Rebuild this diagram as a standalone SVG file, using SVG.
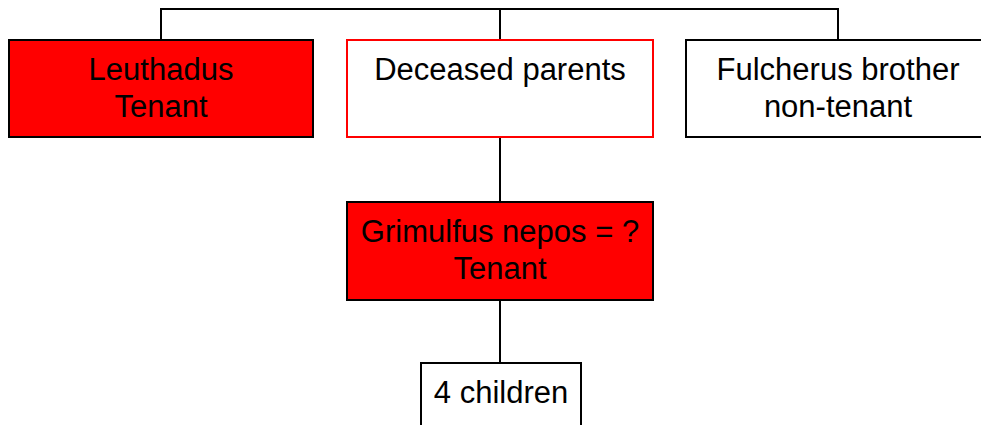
<svg xmlns="http://www.w3.org/2000/svg" width="981" height="425" viewBox="0 0 981 425">
<style>
.box{stroke:#000;stroke-width:2}
.red{fill:#ff0000}
.white{fill:#fff}
.rs{stroke:#ff0000}
text{font-family:"Liberation Sans",Arial,sans-serif;font-size:31px;fill:#000;text-anchor:middle}
.c{fill:none;stroke:#000;stroke-width:2}
</style>
<rect width="981" height="425" fill="#fff"/>
<g id="connectors">
<path class="c" d="M161 40 V9 H838 V40"/>
<path class="c" d="M500 9 V40"/>
<path class="c" d="M500 137 V202"/>
<path class="c" d="M500 300 V363"/>
</g>
<g id="leuthadus">
<rect class="box red" x="9" y="40" width="304" height="97"/>
<text x="161" y="80">Leuthadus</text>
<text x="161" y="117">Tenant</text>
</g>
<g id="parents">
<rect class="box white rs" x="347" y="40" width="306" height="97"/>
<text x="500" y="80">Deceased parents</text>
</g>
<g id="fulcherus">
<rect class="box white" x="686" y="40" width="304" height="97"/>
<text x="838" y="80">Fulcherus brother</text>
<text x="838" y="117">non-tenant</text>
</g>
<g id="grimulfus">
<rect class="box red" x="347" y="202" width="306" height="98"/>
<text x="500" y="242">Grimulfus nepos = ?</text>
<text x="500" y="279">Tenant</text>
</g>
<g id="children">
<rect class="box white" x="421" y="363" width="160" height="70"/>
<text x="501" y="403">4 children</text>
</g>
</svg>
